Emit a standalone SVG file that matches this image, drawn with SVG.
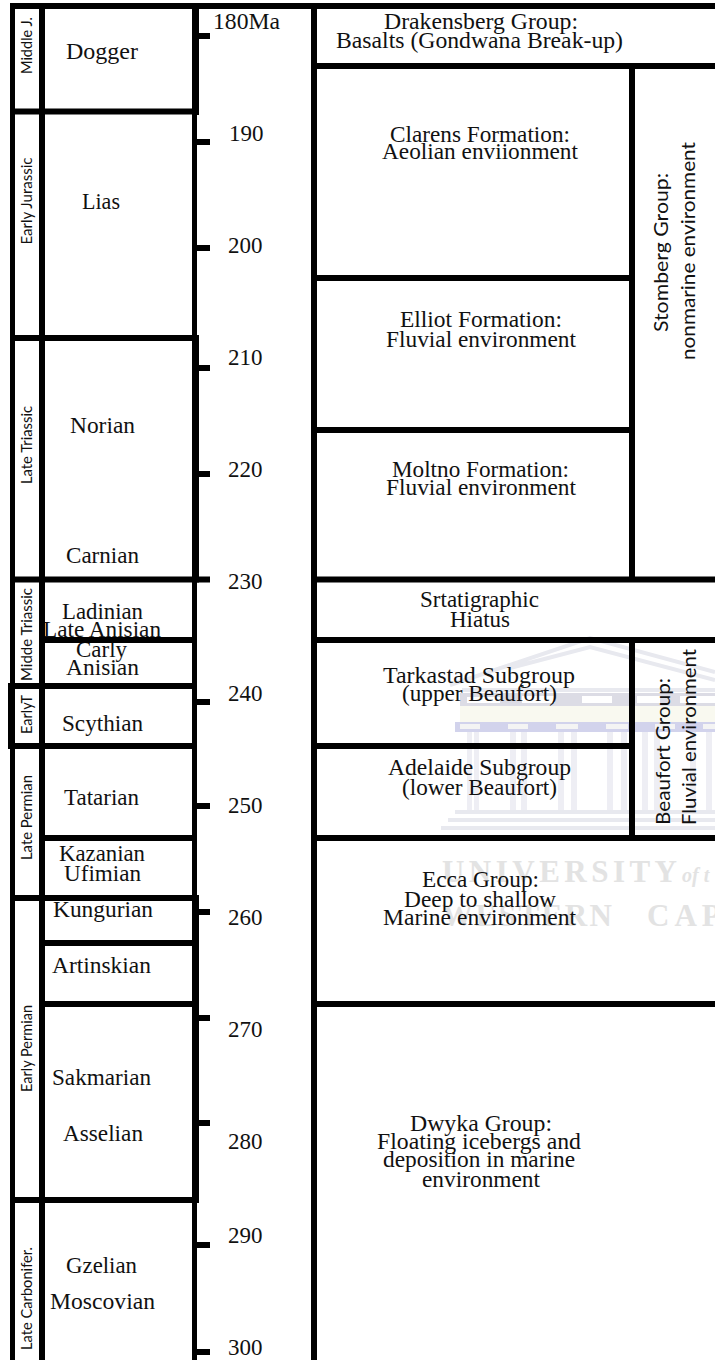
<svg xmlns="http://www.w3.org/2000/svg" width="715" height="1360" viewBox="0 0 715 1360">
<style>
.s{font-family:"Liberation Serif","Times New Roman",serif;font-size:23px;fill:#111}
.r{font-family:Lato,"Open Sans",sans-serif;font-size:15px;fill:#111}
.b{font-family:Lato,"Open Sans",sans-serif;font-size:19px;fill:#111}
.wm{font-family:"Liberation Serif",serif;font-size:31px;fill:#e3e3e3;font-weight:bold}
.wl{stroke:#e8e9ef;stroke-width:4;fill:none}
.wc{fill:#eeeef4}
#rules rect{fill:#000}
</style>
<rect width="715" height="1360" fill="#fff"/>
<g id="watermark">
<path class="wl" d="M450 685L590 638L715 672M510 668L590 647L715 680M462 690H715"/>
<path d="M460 693H715V706H460Z" fill="#dcdce5"/>
<path d="M467 697H500V703H467ZM522 696H555V703H522ZM582 696H612V703H582ZM637 696H660V703H637ZM680 696H715V703H680Z" fill="#fff"/>
<rect x="460" y="706" width="255" height="16" fill="#f9f9f0"/>
<rect x="455" y="722" width="260" height="10" fill="#d2d3ec"/>
<path d="M460 724H480V729H460ZM508 724H528V729H508ZM556 724H578V729H556ZM606 724H628V729H606ZM655 724H675V729H655ZM703 724H715V729H703Z" fill="#f4f4f4"/>
<path class="wc" d="M467 732h5v80h-5zM474 732h5v80h-5zM510 732h6v80h-6zM521 732h6v80h-6zM558 732h6v80h-6zM571 732h6v80h-6zM607 732h6v80h-6zM621 732h6v80h-6zM642 732h6v80h-6zM654 732h6v80h-6zM690 732h6v80h-6zM706 732h6v80h-6z"/>
<path class="wl" d="M455 812H715M448 820H715M441 828H715"/>
<text class="wm" x="442" y="882" textLength="235" lengthAdjust="spacing">UNIVERSITY</text>
<text class="wm" x="682" y="882" style="font-size:20px;font-style:italic">of t</text>
<text class="wm" x="442" y="926" textLength="170" lengthAdjust="spacing">WESTERN</text>
<text class="wm" x="647" y="926" style="letter-spacing:5px">CAP</text>
</g>
<g id="stages">
<text class="s" x="66" y="59" textLength="72" lengthAdjust="spacingAndGlyphs">Dogger</text>
<text class="s" x="82" y="209" textLength="38" lengthAdjust="spacingAndGlyphs">Lias</text>
<text class="s" x="70" y="433" textLength="65" lengthAdjust="spacingAndGlyphs">Norian</text>
<text class="s" x="66" y="563" textLength="73" lengthAdjust="spacingAndGlyphs">Carnian</text>
<text class="s" x="62" y="619" textLength="81" lengthAdjust="spacingAndGlyphs">Ladinian</text>
<text class="s" x="43" y="637" textLength="118" lengthAdjust="spacingAndGlyphs">Late Anisian</text>
<text class="s" x="76" y="657" textLength="51" lengthAdjust="spacingAndGlyphs">Carly</text>
<text class="s" x="66" y="675" textLength="73" lengthAdjust="spacingAndGlyphs">Anisian</text>
<text class="s" x="62" y="731" textLength="81" lengthAdjust="spacingAndGlyphs">Scythian</text>
<text class="s" x="64" y="805" textLength="75" lengthAdjust="spacingAndGlyphs">Tatarian</text>
<text class="s" x="59" y="861" textLength="86" lengthAdjust="spacingAndGlyphs">Kazanian</text>
<text class="s" x="64" y="881" textLength="77" lengthAdjust="spacingAndGlyphs">Ufimian</text>
<text class="s" x="53" y="917" textLength="100" lengthAdjust="spacingAndGlyphs">Kungurian</text>
<text class="s" x="52" y="973" textLength="99" lengthAdjust="spacingAndGlyphs">Artinskian</text>
<text class="s" x="52" y="1085" textLength="99" lengthAdjust="spacingAndGlyphs">Sakmarian</text>
<text class="s" x="63" y="1141" textLength="80" lengthAdjust="spacingAndGlyphs">Asselian</text>
<text class="s" x="66" y="1273" textLength="71" lengthAdjust="spacingAndGlyphs">Gzelian</text>
<text class="s" x="50" y="1309" textLength="105" lengthAdjust="spacingAndGlyphs">Moscovian</text>
</g>
<g id="ages">
<text class="s" x="213" y="29" textLength="67" lengthAdjust="spacingAndGlyphs">180Ma</text>
<text class="s" x="229" y="141">190</text>
<text class="s" x="228" y="253">200</text>
<text class="s" x="228" y="365">210</text>
<text class="s" x="228" y="477">220</text>
<text class="s" x="228" y="589">230</text>
<text class="s" x="228" y="701">240</text>
<text class="s" x="228" y="813">250</text>
<text class="s" x="228" y="925">260</text>
<text class="s" x="228" y="1037">270</text>
<text class="s" x="228" y="1149">280</text>
<text class="s" x="228" y="1243">290</text>
<text class="s" x="228" y="1355">300</text>
</g>
<g id="units">
<text class="s" x="384" y="29" textLength="194" lengthAdjust="spacingAndGlyphs">Drakensberg Group:</text>
<text class="s" x="336" y="47.5" textLength="287" lengthAdjust="spacingAndGlyphs">Basalts (Gondwana Break-up)</text>
<text class="s" x="390" y="141.5" textLength="180" lengthAdjust="spacingAndGlyphs">Clarens Formation:</text>
<text class="s" x="382" y="159" textLength="196" lengthAdjust="spacingAndGlyphs">Aeolian enviionment</text>
<text class="s" x="400" y="326.5" textLength="162" lengthAdjust="spacingAndGlyphs">Elliot Formation:</text>
<text class="s" x="386" y="346.5" textLength="190" lengthAdjust="spacingAndGlyphs">Fluvial environment</text>
<text class="s" x="392" y="476.5" textLength="177" lengthAdjust="spacingAndGlyphs">Moltno Formation:</text>
<text class="s" x="386" y="495" textLength="190" lengthAdjust="spacingAndGlyphs">Fluvial environment</text>
<text class="s" x="420" y="606.5" textLength="119" lengthAdjust="spacingAndGlyphs">Srtatigraphic</text>
<text class="s" x="450" y="626.5" textLength="60" lengthAdjust="spacingAndGlyphs">Hiatus</text>
<text class="s" x="383" y="682.5" textLength="192" lengthAdjust="spacingAndGlyphs">Tarkastad Subgroup</text>
<text class="s" x="402" y="700.5" textLength="155" lengthAdjust="spacingAndGlyphs">(upper Beaufort)</text>
<text class="s" x="388" y="775" textLength="183" lengthAdjust="spacingAndGlyphs">Adelaide Subgroup</text>
<text class="s" x="402" y="795" textLength="155" lengthAdjust="spacingAndGlyphs">(lower Beaufort)</text>
<text class="s" x="422" y="887" textLength="117" lengthAdjust="spacingAndGlyphs">Ecca Group:</text>
<text class="s" x="404" y="906.5" textLength="152" lengthAdjust="spacingAndGlyphs">Deep to shallow</text>
<text class="s" x="383" y="925" textLength="193" lengthAdjust="spacingAndGlyphs">Marine environment</text>
<text class="s" x="410" y="1130.5" textLength="142" lengthAdjust="spacingAndGlyphs">Dwyka Group:</text>
<text class="s" x="377" y="1149" textLength="204" lengthAdjust="spacingAndGlyphs">Floating icebergs and</text>
<text class="s" x="383" y="1167" textLength="192" lengthAdjust="spacingAndGlyphs">deposition in marine</text>
<text class="s" x="422" y="1186.5" textLength="118" lengthAdjust="spacingAndGlyphs">environment</text>
</g>
<g id="periods">
<text class="r" transform="translate(31.5 74) rotate(-90)" textLength="57" lengthAdjust="spacingAndGlyphs">Middle J.</text>
<text class="r" transform="translate(31.5 244.5) rotate(-90)" textLength="87" lengthAdjust="spacingAndGlyphs">Early Jurassic</text>
<text class="r" transform="translate(31.5 484) rotate(-90)" textLength="78" lengthAdjust="spacingAndGlyphs">Late Triassic</text>
<text class="r" transform="translate(31.5 681) rotate(-90)" textLength="93" lengthAdjust="spacingAndGlyphs">Midde Triassic</text>
<text class="r" transform="translate(31.5 734) rotate(-90)" textLength="39" lengthAdjust="spacingAndGlyphs">EarlyT</text>
<text class="r" transform="translate(31.5 860) rotate(-90)" textLength="85" lengthAdjust="spacingAndGlyphs">Late Permian</text>
<text class="r" transform="translate(31.5 1092) rotate(-90)" textLength="87" lengthAdjust="spacingAndGlyphs">Early Permian</text>
<text class="r" transform="translate(31.5 1350) rotate(-90)" textLength="103" lengthAdjust="spacingAndGlyphs">Late Carbonifer.</text>
<text class="b" transform="translate(668 332) rotate(-90)" textLength="159" lengthAdjust="spacingAndGlyphs">Stomberg Group:</text>
<text class="b" transform="translate(695 360) rotate(-90)" textLength="218" lengthAdjust="spacingAndGlyphs">nonmarine environment</text>
<text class="b" transform="translate(670 825) rotate(-90)" textLength="147" lengthAdjust="spacingAndGlyphs">Beaufort Group:</text>
<text class="b" transform="translate(696 825) rotate(-90)" textLength="176" lengthAdjust="spacingAndGlyphs">Fluvial environment</text>
</g>
<g id="rules">
<rect x="10" y="3" width="705" height="6"/>
<rect x="10" y="3" width="5" height="1357"/>
<rect x="39" y="3" width="6" height="1357"/>
<rect x="311" y="3" width="6" height="1357"/>
<rect x="8" y="683" width="7" height="66"/>
<rect x="192" y="3" width="7" height="112"/>
<rect x="192" y="115" width="5" height="220"/>
<rect x="192" y="335" width="7" height="247"/>
<rect x="192" y="582" width="5" height="313"/>
<rect x="192" y="895" width="7" height="308"/>
<rect x="192" y="1203" width="5" height="157"/>
<rect x="10" y="108.500" width="189" height="6"/>
<rect x="10" y="335" width="189" height="6"/>
<rect x="10" y="576.500" width="189" height="6"/>
<rect x="39" y="637" width="158" height="6"/>
<rect x="8" y="683" width="189" height="6"/>
<rect x="8" y="743" width="189" height="6"/>
<rect x="39" y="835" width="158" height="6"/>
<rect x="10" y="895" width="189" height="6"/>
<rect x="39" y="940" width="158" height="6"/>
<rect x="39" y="1001" width="158" height="6"/>
<rect x="10" y="1197" width="189" height="6"/>
<rect x="197" y="33" width="13" height="6"/>
<rect x="197" y="139" width="13" height="6"/>
<rect x="197" y="245" width="13" height="6"/>
<rect x="197" y="365" width="13" height="6"/>
<rect x="197" y="471" width="13" height="6"/>
<rect x="197" y="576.500" width="13" height="6"/>
<rect x="197" y="699" width="13" height="6"/>
<rect x="197" y="803" width="13" height="6"/>
<rect x="197" y="909" width="13" height="6"/>
<rect x="197" y="1015" width="13" height="6"/>
<rect x="197" y="1120" width="13" height="6"/>
<rect x="197" y="1242" width="13" height="6"/>
<rect x="197" y="1349" width="13" height="6"/>
<rect x="311" y="63" width="404" height="6"/>
<rect x="311" y="275" width="323" height="6"/>
<rect x="311" y="427" width="323" height="6"/>
<rect x="311" y="576.500" width="404" height="6"/>
<rect x="311" y="637" width="404" height="6"/>
<rect x="311" y="743" width="323" height="6"/>
<rect x="311" y="835" width="404" height="6"/>
<rect x="311" y="1001" width="404" height="6"/>
<rect x="629" y="69" width="6" height="508"/>
<rect x="629" y="643" width="6" height="192"/>
</g>
</svg>
